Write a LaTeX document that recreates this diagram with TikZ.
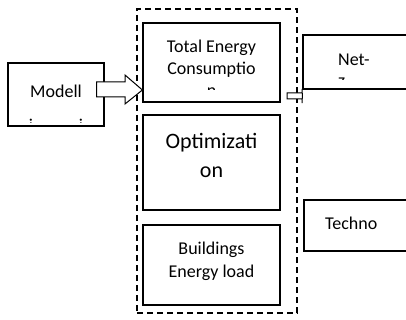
\documentclass[tikz,border=0pt]{standalone}
\usepackage{fontspec}
\setmainfont{Carlito}
\begin{document}
\begin{tikzpicture}[x=1pt,y=-1pt,
  box/.style={draw,line width=1.2pt,inner sep=0pt,fill=white},
  lbl/.style={font=\fontsize{18}{22}\selectfont,anchor=base,inner sep=0pt},
  biglbl/.style={font=\fontsize{22}{26}\selectfont,anchor=base,inner sep=0pt},
  dashbox/.style={draw,line width=1.3pt,dash pattern=on 6pt off 4pt,inner sep=0pt},
  blockarrow/.style={draw,line width=1pt,fill=white,line join=miter}]
\useasboundingbox (0,0) rectangle (406,320);
\clip (0,0) rectangle (406,320);

% dashed group
\node[dashbox,minimum width=160pt,minimum height=304pt] (grp) at (217,161) {};

% boxes
\node[box,minimum width=96pt,minimum height=63pt] (mod) at (56,94.5) {};
\node[box,minimum width=137pt,minimum height=79pt] (te) at (211.5,62.5) {};
\node[box,minimum width=137pt,minimum height=95pt] (opt) at (211.5,162.5) {};
\node[box,minimum width=137pt,minimum height=80pt] (bel) at (211.5,265) {};
\node[box,minimum width=130pt,minimum height=54pt] (net) at (368,62) {};
\node[box,minimum width=130pt,minimum height=51pt] (tec) at (369,225.5) {};

% texts
\node[lbl] (t1) at (56,98) {Modell};
\begin{scope}
  \clip (9,110) rectangle (100,123);
  \node[lbl] (t1b) at (56,132) {i\hspace{46pt}i};
\end{scope}

\node[lbl] (t2) at (211.5,53) {Total Energy};
\node[lbl] (t3) at (211.5,75) {Consumptio};
\begin{scope}
  \clip (143,80) rectangle (280,90);
  \node[lbl] (t4) at (211.5,97) {n};
\end{scope}

\node[biglbl] (t5) at (211.5,149) {Optimizati};
\node[biglbl] (t6) at (211.5,178) {on};

\node[lbl] (t7) at (211.5,254) {Buildings};
\node[lbl] (t8) at (211.5,277) {Energy load};

\node[lbl,anchor=base west] (t9) at (338,66) {Net-};
\begin{scope}
  \clip (304,70) rectangle (406,80);
  \node[lbl,anchor=base west] (t10) at (338,87) {z};
\end{scope}

\node[lbl,anchor=base west] (t11) at (325,229) {Techno};

% block arrow from Modell to Total Energy
\draw[blockarrow] ([xshift=-8pt]mod.east |- 0,82) -- (125,82) -- (125,75)
  -- (te.west |- 0,90) -- (125,104) -- (125,97) -- ([xshift=-8pt]mod.east |- 0,97) -- cycle;

% small arrow from Total Energy to Net
\draw[blockarrow] (287,93) -- (302,93) -- (302,89) -- (net.west |- 0,96)
  -- (302,103) -- (302,99) -- (287,99) -- cycle;
\end{tikzpicture}
\end{document}
